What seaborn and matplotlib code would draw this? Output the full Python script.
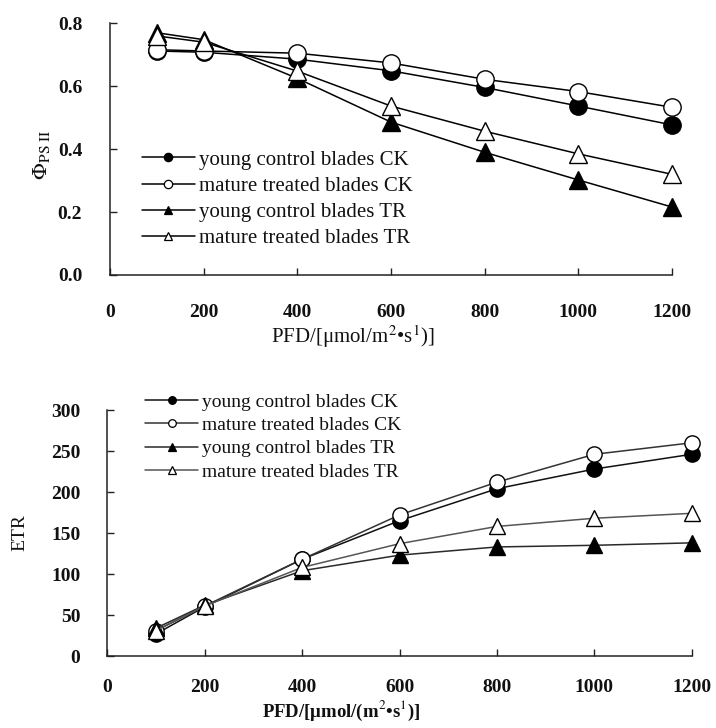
import matplotlib
matplotlib.use("Agg")
import matplotlib.pyplot as plt
import seaborn as sns
from matplotlib.lines import Line2D

# ---------------- data ----------------
pfd = [100, 200, 400, 600, 800, 1000, 1200]
series_labels = ["young control blades CK", "mature treated blades CK",
                 "young control blades TR", "mature treated blades TR"]

phi_young_ck = [0.712, 0.708, 0.686, 0.649, 0.596, 0.537, 0.477]
phi_mature_ck = [0.716, 0.712, 0.705, 0.674, 0.622, 0.583, 0.533]
phi_young_tr = [0.770, 0.748, 0.625, 0.486, 0.390, 0.302, 0.216]
phi_mature_tr = [0.760, 0.740, 0.648, 0.537, 0.457, 0.385, 0.320]

etr_young_ck = [27, 60, 118, 165, 204, 228, 246]
etr_mature_ck = [31, 61, 118, 172, 212, 246, 260]
etr_young_tr = [34, 62, 104, 123, 133, 135, 138]
etr_mature_tr = [31, 61, 108, 137, 158, 168, 174]

x_ticks = [0, 200, 400, 600, 800, 1000, 1200]
phi_ticks = [0.0, 0.2, 0.4, 0.6, 0.8]
etr_ticks = [0, 50, 100, 150, 200, 250, 300]

# ---------------- style ----------------
sns.set_theme(style="white")
plt.rcParams['font.family'] = ['Liberation Serif', 'DejaVu Serif']
plt.rcParams['mathtext.fontset'] = 'stix'

fig = plt.figure(figsize=(7.16, 7.28), dpi=100)
fig.patch.set_facecolor('white')

ax1 = fig.add_axes([0.1536, 0.6223, 0.7849, 0.3457])
ax2 = fig.add_axes([0.1499, 0.0989, 0.8162, 0.3379])

styles = [
    dict(marker='o', mfc='black'),
    dict(marker='o', mfc='white'),
    dict(marker='^', mfc='black'),
    dict(marker='^', mfc='white'),
]

top_data = [phi_young_ck, phi_mature_ck, phi_young_tr, phi_mature_tr]
bot_data = [etr_young_ck, etr_mature_ck, etr_young_tr, etr_mature_tr]
top_lc = ['black', 'black', 'black', 'black']
bot_lc = ['#111111', '#333333', '#2a2a2a', '#555555']

for vals, st, lc in zip(top_data, styles, top_lc):
    sns.lineplot(x=pfd, y=vals, ax=ax1, color=lc, linewidth=1.1,
                 marker=st['marker'], markersize=12.5 if st['marker'] == 'o' else 13,
                 markerfacecolor=st['mfc'], markeredgecolor='black',
                 markeredgewidth=1.0, clip_on=False, legend=False)

for vals, st, lc in zip(bot_data, styles, bot_lc):
    sns.lineplot(x=pfd, y=vals, ax=ax2, color=lc, linewidth=1.1,
                 marker=st['marker'], markersize=11 if st['marker'] == 'o' else 11.5,
                 markerfacecolor=st['mfc'], markeredgecolor='black',
                 markeredgewidth=1.0, clip_on=False, legend=False)

def style_axes(ax, yticks, ylim, yfmt, tick_fs, xpad, ypad):
    ax.set_xlim(0, 1200)
    ax.set_ylim(*ylim)
    ax.set_xticks(x_ticks)
    ax.set_yticks(yticks)
    ax.set_xticklabels([str(t) for t in x_ticks])
    ax.set_yticklabels([yfmt.format(t) for t in yticks])
    for s in ['top', 'right']:
        ax.spines[s].set_visible(False)
    for s in ['left', 'bottom']:
        ax.spines[s].set_color('#222222')
        ax.spines[s].set_linewidth(1.1)
    ax.tick_params(axis='both', direction='in', length=5, width=1.0,
                   color='#222222', labelsize=tick_fs, labelcolor='#111111')
    ax.tick_params(axis='x', pad=xpad, bottom=True)
    ax.tick_params(axis='y', pad=ypad, left=True)
    for lab in ax.get_xticklabels() + ax.get_yticklabels():
        lab.set_fontweight('bold')
    ax.set_xlabel('')
    ax.set_ylabel('')
    ax.set_facecolor('white')

style_axes(ax1, phi_ticks, (0, 0.8), '{:.1f}', 14, 21, 20)
style_axes(ax2, etr_ticks, (0, 300), '{:d}', 14, 16.5, 19.5)

# axis titles
fig.text(352.5 / 716, 1 - 337 / 728, r'PFD/[μmol/m$^{2}$•s$^{1}$)]',
         ha='center', va='center', fontsize=15, color='#111111')
fig.text(341 / 716, 1 - 711 / 728, r'PFD/[μmol/(m$^{2}$•s$^{1}$)]',
         ha='center', va='center', fontsize=13.5, fontweight='bold', color='#111111')
fig.text(42 / 716, 1 - 155 / 728, r'$\mathit{\Phi}_{\mathrm{PS\ II}}$',
         ha='center', va='center', rotation=90, fontsize=16, color='#111111')
fig.text(20 / 716, 1 - 533 / 728, 'ETR', ha='center', va='center',
         rotation=90, fontsize=14, color='#111111')

# legends
def make_handles(lcolors, ms):
    hs = []
    for st, lc in zip(styles, lcolors):
        hs.append(Line2D([], [], color=lc, linewidth=1.1, marker=st['marker'],
                         markersize=ms, markerfacecolor=st['mfc'],
                         markeredgecolor='black', markeredgewidth=0.9))
    return hs

leg1 = ax1.legend(make_handles(top_lc, 6), series_labels, loc='upper left',
                  bbox_to_anchor=(141.7 / 716, 1 - 150 / 728),
                  bbox_transform=fig.transFigure, frameon=False, fontsize=15,
                  handlelength=2.55, handletextpad=0.2, labelspacing=0.32,
                  borderpad=0, borderaxespad=0)
for t in leg1.get_texts():
    t.set_color('#111111')

leg2 = ax2.legend(make_handles(bot_lc, 5.5), series_labels, loc='upper left',
                  bbox_to_anchor=(145 / 716, 1 - 393 / 728),
                  bbox_transform=fig.transFigure, frameon=False, fontsize=14,
                  handlelength=2.75, handletextpad=0.2, labelspacing=0.3,
                  borderpad=0, borderaxespad=0)
for t in leg2.get_texts():
    t.set_color('#111111')

fig.savefig('out.png', dpi=100, facecolor='white')
